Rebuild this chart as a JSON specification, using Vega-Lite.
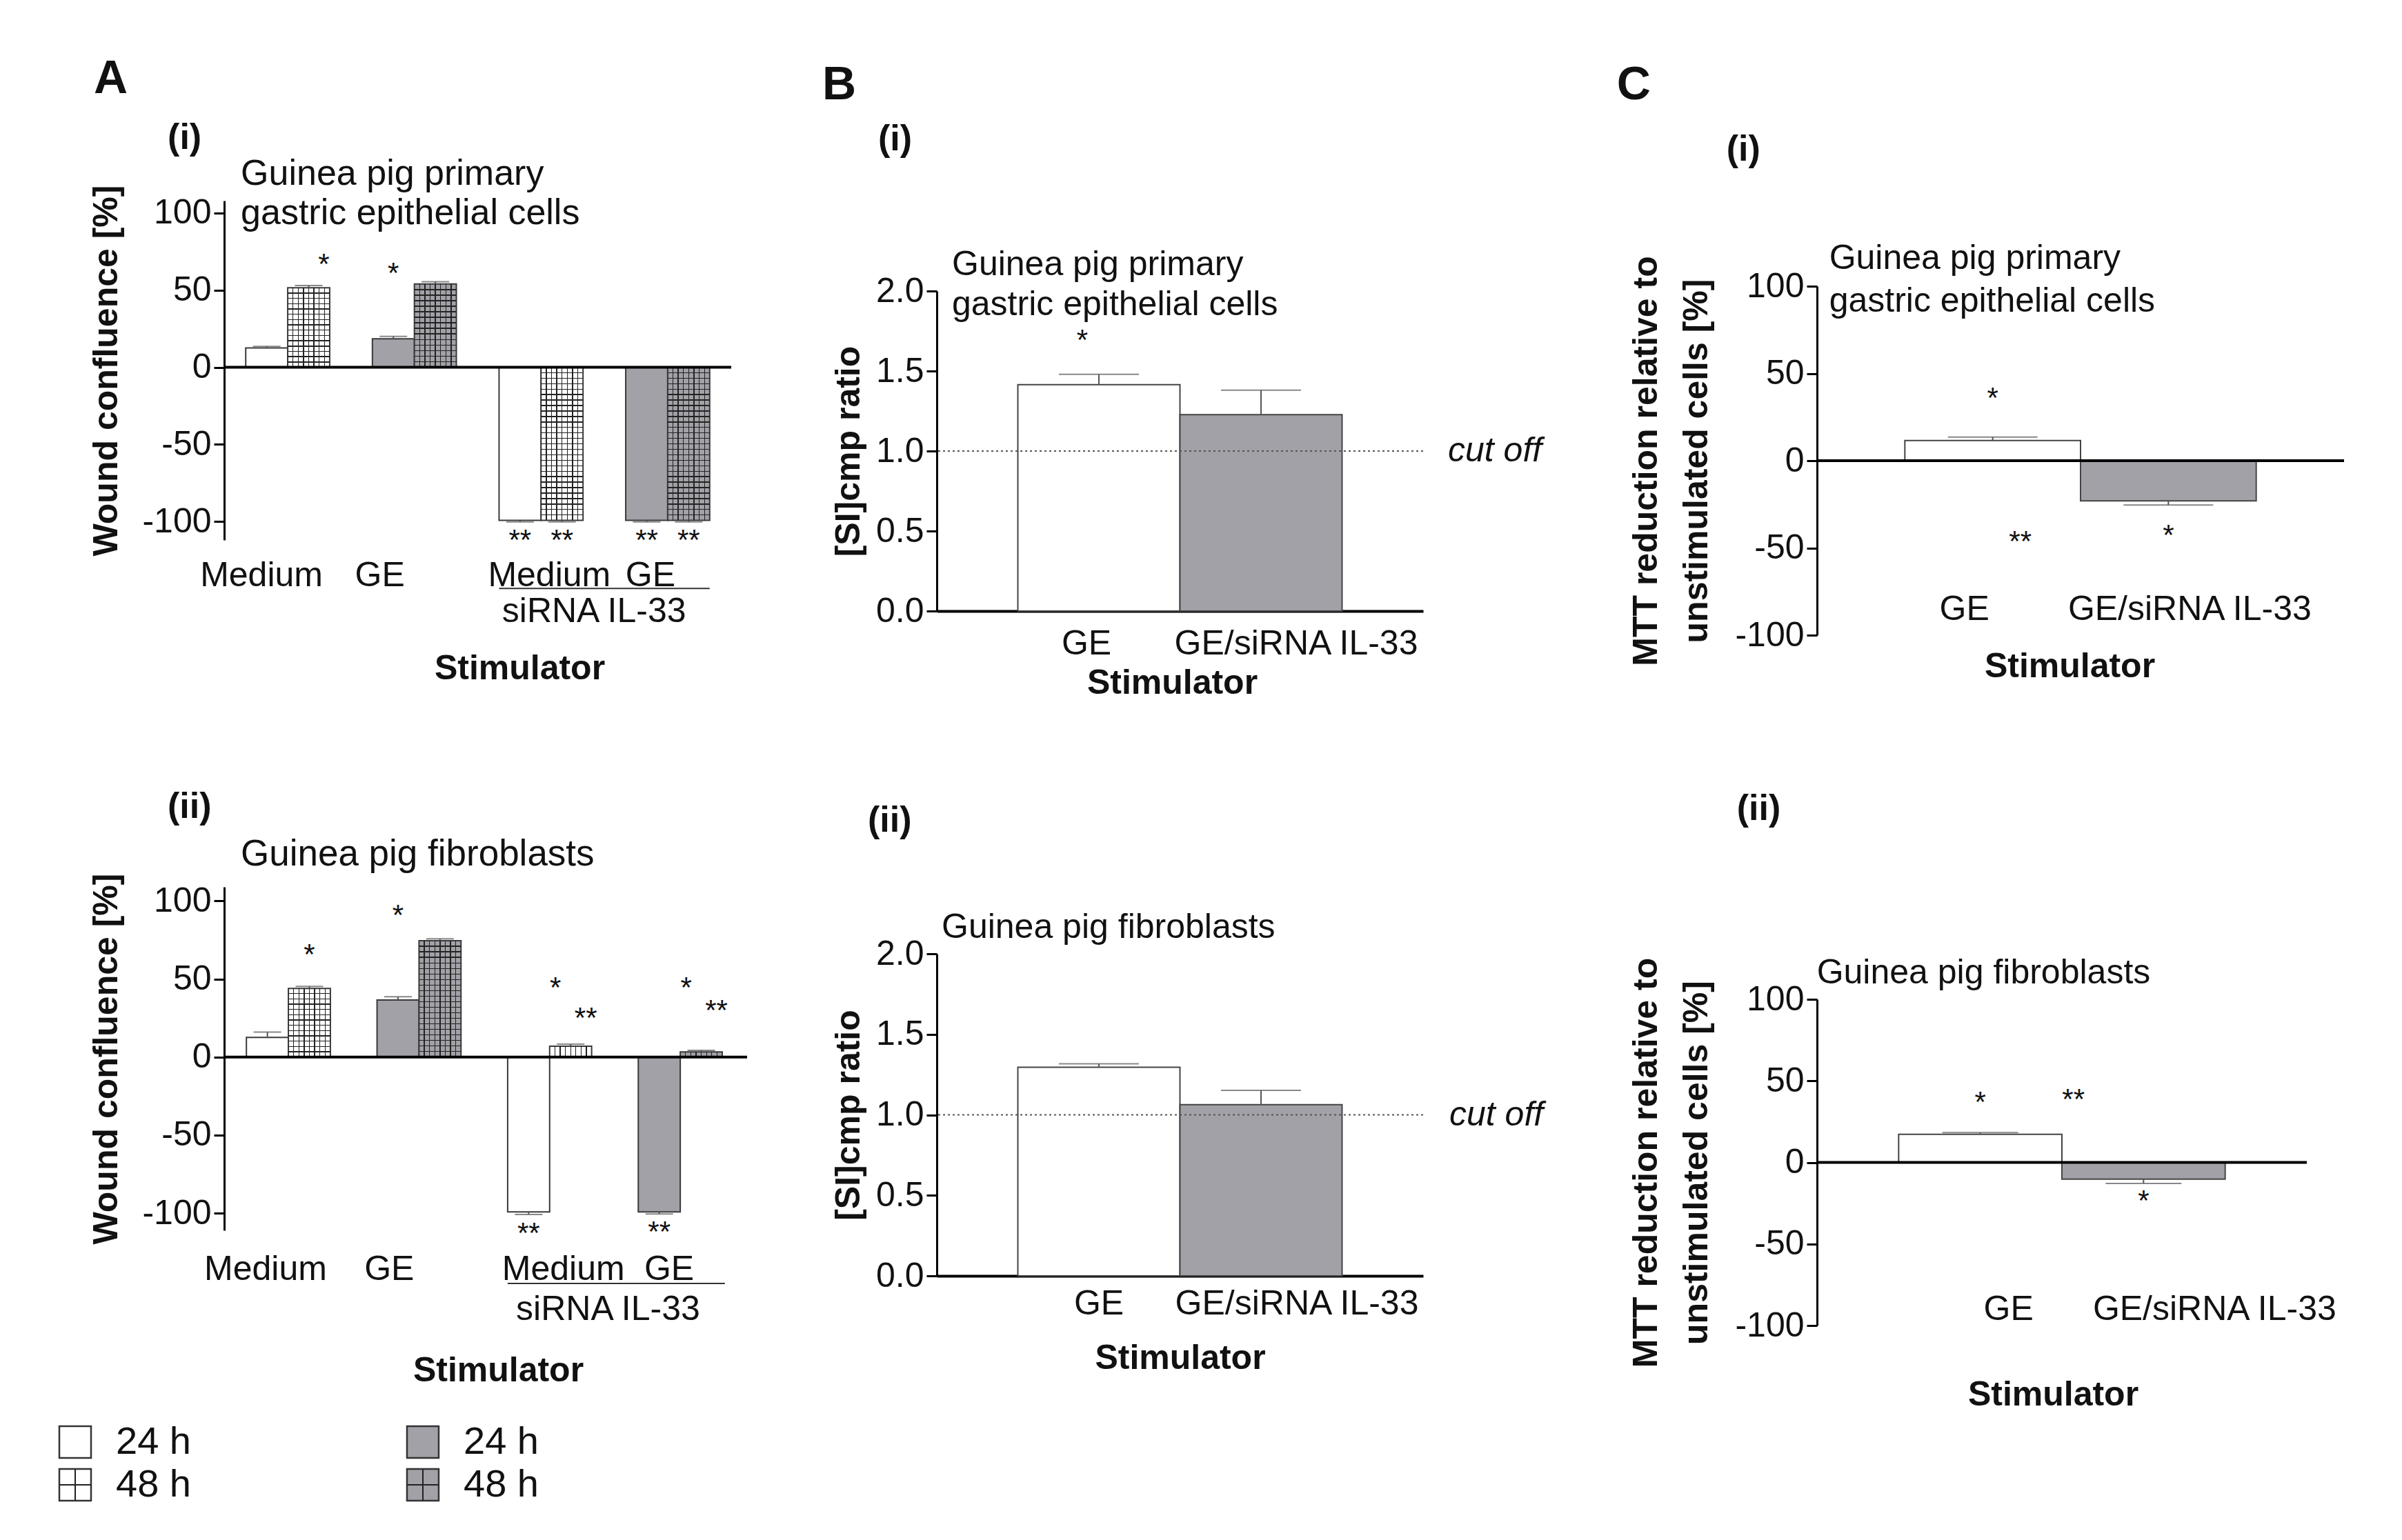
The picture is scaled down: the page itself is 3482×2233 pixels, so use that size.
{
"$schema":"https://vega.github.io/schema/vega-lite/v6.json",
"background":"white",
"padding":{"left":80,"top":58,"right":40,"bottom":20},
"config":{
 "font":"Liberation Sans",
 "view":{"stroke":null},
 "axis":{"labelFont":"Liberation Sans","titleFont":"Liberation Sans","labelFontSize":50,"titleFontSize":50,"titleFontWeight":"bold","labelColor":"#111","titleColor":"#111","grid":false,"domainColor":"#000","tickColor":"#000","domainWidth":3,"tickWidth":3,"tickSize":15,"labelPadding":4,"labelLimit":2000,"titleLimit":3000,"labelFlush":false,"labelOverlap":false},
 "text":{"font":"Liberation Sans","color":"#111"}
},
"datasets":{
 "ai":[
  {"g":"Medium","t":"24 h","v":12.5,"e":13.5},
  {"g":"Medium","t":"48 h","v":51.5,"e":53,"sr":"*","sry":72},
  {"g":"GE","t":"24 h","v":18.5,"e":20,"s":"*","sy":66},
  {"g":"GE","t":"48 h","v":54,"e":55.5},
  {"g":"Medium/siRNA","t":"24 h","v":-99.3,"e":-100.3,"s":"**","sy":-107},
  {"g":"Medium/siRNA","t":"48 h","v":-99.3,"e":-100.3,"s":"**","sy":-107},
  {"g":"GE/siRNA","t":"24 h","v":-99.3,"e":-100.3,"s":"**","sy":-107},
  {"g":"GE/siRNA","t":"48 h","v":-99.3,"e":-100.3,"s":"**","sy":-107}
 ],
 "aii":[
  {"g":"Medium","t":"24 h","v":12.6,"e":16},
  {"g":"Medium","t":"48 h","v":44,"e":45.3,"s":"*","sy":70.7},
  {"g":"GE","t":"24 h","v":36.6,"e":38.6,"s":"*","sy":95.6},
  {"g":"GE","t":"48 h","v":74.5,"e":75.8},
  {"g":"Medium/siRNA","t":"24 h","v":-99.2,"e":-100.8,"s":"**","sy":-108},
  {"g":"Medium/siRNA","t":"48 h","v":7,"e":8.3,"sl":"*","sly":49.5,"sr":"**","sry":29.8},
  {"g":"GE/siRNA","t":"24 h","v":-99.2,"e":-100.5,"s":"**","sy":-107},
  {"g":"GE/siRNA","t":"48 h","v":3.3,"e":4.3,"sl":"*","sly":49.5,"sr":"**","sry":34.8}
 ],
 "bi":[
  {"g":"GE","v":1.415,"e":1.48,"sl":"*","sly":1.74},
  {"g":"GE/siRNA IL-33","v":1.227,"e":1.38}
 ],
 "bii":[
  {"g":"GE","v":1.296,"e":1.317},
  {"g":"GE/siRNA IL-33","v":1.063,"e":1.152}
 ],
 "ci":[
  {"g":"GE","v":11.6,"e":13.5,"s":"*","sy":40.4,"sr":"**","sry":-41.9},
  {"g":"GE/siRNA IL-33","v":-23,"e":-25.4,"s":"*","sy":-38.2}
 ],
 "cii":[
  {"g":"GE","v":17.2,"e":18.3,"s":"*","sy":41.5,"sr":"**","sry":43.5},
  {"g":"GE/siRNA IL-33","v":-10.3,"e":-12.9,"s":"*","sy":-19}
 ],
 "leg":[{"col":0,"c":"w","t":"24 h"},{"col":0,"c":"w","t":"48 h"},{"col":1,"c":"g","t":"24 h"},{"col":1,"c":"g","t":"48 h"}]
},
"spacing":107,
"hconcat":[
 {
  "spacing":10,
  "vconcat":[
   {"width":1,"height":1,"data":{"values":[{}]},"mark":{"type":"text","opacity":0},"encoding":{"text":{"value":""}}},
   {
  "spacing":51,
  "vconcat":[
   {"spacing":150,"vconcat":[
    {
     "width":735,"height":492,"data":{"name":"ai"},
     "layer":[
      {"mark":{"type":"bar","stroke":"#3a3a3a","strokeWidth":2},
       "encoding":{
        "x":{"field":"g","type":"nominal","scale":{"domain":["Medium","GE","Medium/siRNA","GE/siRNA"],"paddingInner":0.337,"paddingOuter":0.17},"title":"Stimulator",
             "axis":{"orient":"bottom","domain":false,"ticks":false,"labelAngle":0,"labelPadding":26,"titlePadding":85,"titleX":428,
                     "labelExpr":"datum.value == 'Medium/siRNA' ? 'Medium' : datum.value == 'GE/siRNA' ? 'GE' : datum.value",
                     "labelOffset":{"condition":[{"test":"datum.value == 'Medium'","value":-38},{"test":"datum.value == 'GE'","value":-50},{"test":"datum.value == 'Medium/siRNA'","value":12}],"value":-25}}},
        "xOffset":{"field":"t","type":"nominal","scale":{"domain":["24 h","48 h"],"paddingInner":0,"paddingOuter":0}},
        "y":{"field":"v","type":"quantitative","scale":{"domain":[-112,108],"nice":false},"title":"Wound confluence [%]",
             "axis":{"values":[-100,-50,0,50,100],"titlePadding":26,"labelExpr":"datum.value < 0 ? '-' + abs(datum.value) : '' + datum.value"}},
        "fill":{"condition":{"test":"indexof(datum.g,'GE') == 0","value":"#a2a1a7"},"value":"#ffffff"}}},
      {"transform":[{"filter":"datum.t == '48 h'"}],
       "mark":{"type":"bar","fill":{"gradient":"linear","x1":0,"y1":0,"x2":1,"y2":0,"stops":[
        {"offset":0.114,"color":"rgba(0,0,0,0)"},{"offset":0.114,"color":"#222"},{"offset":0.136,"color":"#222"},{"offset":0.136,"color":"rgba(0,0,0,0)"},
        {"offset":0.239,"color":"rgba(0,0,0,0)"},{"offset":0.239,"color":"#222"},{"offset":0.261,"color":"#222"},{"offset":0.261,"color":"rgba(0,0,0,0)"},
        {"offset":0.364,"color":"rgba(0,0,0,0)"},{"offset":0.364,"color":"#222"},{"offset":0.386,"color":"#222"},{"offset":0.386,"color":"rgba(0,0,0,0)"},
        {"offset":0.489,"color":"rgba(0,0,0,0)"},{"offset":0.489,"color":"#222"},{"offset":0.511,"color":"#222"},{"offset":0.511,"color":"rgba(0,0,0,0)"},
        {"offset":0.614,"color":"rgba(0,0,0,0)"},{"offset":0.614,"color":"#222"},{"offset":0.636,"color":"#222"},{"offset":0.636,"color":"rgba(0,0,0,0)"},
        {"offset":0.739,"color":"rgba(0,0,0,0)"},{"offset":0.739,"color":"#222"},{"offset":0.761,"color":"#222"},{"offset":0.761,"color":"rgba(0,0,0,0)"},
        {"offset":0.864,"color":"rgba(0,0,0,0)"},{"offset":0.864,"color":"#222"},{"offset":0.886,"color":"#222"},{"offset":0.886,"color":"rgba(0,0,0,0)"}]}},
       "encoding":{"x":{"field":"g","type":"nominal"},"xOffset":{"field":"t","type":"nominal"},"y":{"field":"v","type":"quantitative"}}},
      {"transform":[{"filter":"datum.t == '48 h'"}],
       "mark":{"type":"bar"},
       "encoding":{"x":{"field":"g","type":"nominal"},"xOffset":{"field":"t","type":"nominal"},"y":{"field":"v","type":"quantitative"},
        "fill":{"condition":{"test":"datum.v < 0","value":{"gradient":"linear","x1":0,"y1":0,"x2":0,"y2":1,"stops":[
         {"offset":0.0325,"color":"rgba(0,0,0,0)"},{"offset":0.0325,"color":"#222"},{"offset":0.0389,"color":"#222"},{"offset":0.0389,"color":"rgba(0,0,0,0)"},
         {"offset":0.0682,"color":"rgba(0,0,0,0)"},{"offset":0.0682,"color":"#222"},{"offset":0.0746,"color":"#222"},{"offset":0.0746,"color":"rgba(0,0,0,0)"},
         {"offset":0.1039,"color":"rgba(0,0,0,0)"},{"offset":0.1039,"color":"#222"},{"offset":0.1103,"color":"#222"},{"offset":0.1103,"color":"rgba(0,0,0,0)"},
         {"offset":0.1397,"color":"rgba(0,0,0,0)"},{"offset":0.1397,"color":"#222"},{"offset":0.1461,"color":"#222"},{"offset":0.1461,"color":"rgba(0,0,0,0)"},
         {"offset":0.1754,"color":"rgba(0,0,0,0)"},{"offset":0.1754,"color":"#222"},{"offset":0.1818,"color":"#222"},{"offset":0.1818,"color":"rgba(0,0,0,0)"},
         {"offset":0.2111,"color":"rgba(0,0,0,0)"},{"offset":0.2111,"color":"#222"},{"offset":0.2175,"color":"#222"},{"offset":0.2175,"color":"rgba(0,0,0,0)"},
         {"offset":0.2468,"color":"rgba(0,0,0,0)"},{"offset":0.2468,"color":"#222"},{"offset":0.2532,"color":"#222"},{"offset":0.2532,"color":"rgba(0,0,0,0)"},
         {"offset":0.2825,"color":"rgba(0,0,0,0)"},{"offset":0.2825,"color":"#222"},{"offset":0.2889,"color":"#222"},{"offset":0.2889,"color":"rgba(0,0,0,0)"},
         {"offset":0.3182,"color":"rgba(0,0,0,0)"},{"offset":0.3182,"color":"#222"},{"offset":0.3246,"color":"#222"},{"offset":0.3246,"color":"rgba(0,0,0,0)"},
         {"offset":0.3539,"color":"rgba(0,0,0,0)"},{"offset":0.3539,"color":"#222"},{"offset":0.3603,"color":"#222"},{"offset":0.3603,"color":"rgba(0,0,0,0)"},
         {"offset":0.3897,"color":"rgba(0,0,0,0)"},{"offset":0.3897,"color":"#222"},{"offset":0.3961,"color":"#222"},{"offset":0.3961,"color":"rgba(0,0,0,0)"},
         {"offset":0.4254,"color":"rgba(0,0,0,0)"},{"offset":0.4254,"color":"#222"},{"offset":0.4318,"color":"#222"},{"offset":0.4318,"color":"rgba(0,0,0,0)"},
         {"offset":0.4611,"color":"rgba(0,0,0,0)"},{"offset":0.4611,"color":"#222"},{"offset":0.4675,"color":"#222"},{"offset":0.4675,"color":"rgba(0,0,0,0)"},
         {"offset":0.4968,"color":"rgba(0,0,0,0)"},{"offset":0.4968,"color":"#222"},{"offset":0.5032,"color":"#222"},{"offset":0.5032,"color":"rgba(0,0,0,0)"},
         {"offset":0.5325,"color":"rgba(0,0,0,0)"},{"offset":0.5325,"color":"#222"},{"offset":0.5389,"color":"#222"},{"offset":0.5389,"color":"rgba(0,0,0,0)"},
         {"offset":0.5682,"color":"rgba(0,0,0,0)"},{"offset":0.5682,"color":"#222"},{"offset":0.5746,"color":"#222"},{"offset":0.5746,"color":"rgba(0,0,0,0)"},
         {"offset":0.6039,"color":"rgba(0,0,0,0)"},{"offset":0.6039,"color":"#222"},{"offset":0.6103,"color":"#222"},{"offset":0.6103,"color":"rgba(0,0,0,0)"},
         {"offset":0.6397,"color":"rgba(0,0,0,0)"},{"offset":0.6397,"color":"#222"},{"offset":0.6461,"color":"#222"},{"offset":0.6461,"color":"rgba(0,0,0,0)"},
         {"offset":0.6754,"color":"rgba(0,0,0,0)"},{"offset":0.6754,"color":"#222"},{"offset":0.6818,"color":"#222"},{"offset":0.6818,"color":"rgba(0,0,0,0)"},
         {"offset":0.7111,"color":"rgba(0,0,0,0)"},{"offset":0.7111,"color":"#222"},{"offset":0.7175,"color":"#222"},{"offset":0.7175,"color":"rgba(0,0,0,0)"},
         {"offset":0.7468,"color":"rgba(0,0,0,0)"},{"offset":0.7468,"color":"#222"},{"offset":0.7532,"color":"#222"},{"offset":0.7532,"color":"rgba(0,0,0,0)"},
         {"offset":0.7825,"color":"rgba(0,0,0,0)"},{"offset":0.7825,"color":"#222"},{"offset":0.7889,"color":"#222"},{"offset":0.7889,"color":"rgba(0,0,0,0)"},
         {"offset":0.8182,"color":"rgba(0,0,0,0)"},{"offset":0.8182,"color":"#222"},{"offset":0.8246,"color":"#222"},{"offset":0.8246,"color":"rgba(0,0,0,0)"},
         {"offset":0.8539,"color":"rgba(0,0,0,0)"},{"offset":0.8539,"color":"#222"},{"offset":0.8603,"color":"#222"},{"offset":0.8603,"color":"rgba(0,0,0,0)"},
         {"offset":0.8897,"color":"rgba(0,0,0,0)"},{"offset":0.8897,"color":"#222"},{"offset":0.8961,"color":"#222"},{"offset":0.8961,"color":"rgba(0,0,0,0)"},
         {"offset":0.9254,"color":"rgba(0,0,0,0)"},{"offset":0.9254,"color":"#222"},{"offset":0.9318,"color":"#222"},{"offset":0.9318,"color":"rgba(0,0,0,0)"},
         {"offset":0.9611,"color":"rgba(0,0,0,0)"},{"offset":0.9611,"color":"#222"},{"offset":0.9675,"color":"#222"},{"offset":0.9675,"color":"rgba(0,0,0,0)"}]}},
         "value":{"gradient":"linear","x1":0,"y1":0,"x2":0,"y2":1,"stops":[
         {"offset":0.0607,"color":"rgba(0,0,0,0)"},{"offset":0.0607,"color":"#222"},{"offset":0.0727,"color":"#222"},{"offset":0.0727,"color":"rgba(0,0,0,0)"},
         {"offset":0.1273,"color":"rgba(0,0,0,0)"},{"offset":0.1273,"color":"#222"},{"offset":0.1393,"color":"#222"},{"offset":0.1393,"color":"rgba(0,0,0,0)"},
         {"offset":0.194,"color":"rgba(0,0,0,0)"},{"offset":0.194,"color":"#222"},{"offset":0.206,"color":"#222"},{"offset":0.206,"color":"rgba(0,0,0,0)"},
         {"offset":0.2607,"color":"rgba(0,0,0,0)"},{"offset":0.2607,"color":"#222"},{"offset":0.2727,"color":"#222"},{"offset":0.2727,"color":"rgba(0,0,0,0)"},
         {"offset":0.3273,"color":"rgba(0,0,0,0)"},{"offset":0.3273,"color":"#222"},{"offset":0.3393,"color":"#222"},{"offset":0.3393,"color":"rgba(0,0,0,0)"},
         {"offset":0.394,"color":"rgba(0,0,0,0)"},{"offset":0.394,"color":"#222"},{"offset":0.406,"color":"#222"},{"offset":0.406,"color":"rgba(0,0,0,0)"},
         {"offset":0.4607,"color":"rgba(0,0,0,0)"},{"offset":0.4607,"color":"#222"},{"offset":0.4727,"color":"#222"},{"offset":0.4727,"color":"rgba(0,0,0,0)"},
         {"offset":0.5273,"color":"rgba(0,0,0,0)"},{"offset":0.5273,"color":"#222"},{"offset":0.5393,"color":"#222"},{"offset":0.5393,"color":"rgba(0,0,0,0)"},
         {"offset":0.594,"color":"rgba(0,0,0,0)"},{"offset":0.594,"color":"#222"},{"offset":0.606,"color":"#222"},{"offset":0.606,"color":"rgba(0,0,0,0)"},
         {"offset":0.6607,"color":"rgba(0,0,0,0)"},{"offset":0.6607,"color":"#222"},{"offset":0.6727,"color":"#222"},{"offset":0.6727,"color":"rgba(0,0,0,0)"},
         {"offset":0.7273,"color":"rgba(0,0,0,0)"},{"offset":0.7273,"color":"#222"},{"offset":0.7393,"color":"#222"},{"offset":0.7393,"color":"rgba(0,0,0,0)"},
         {"offset":0.794,"color":"rgba(0,0,0,0)"},{"offset":0.794,"color":"#222"},{"offset":0.806,"color":"#222"},{"offset":0.806,"color":"rgba(0,0,0,0)"},
         {"offset":0.8607,"color":"rgba(0,0,0,0)"},{"offset":0.8607,"color":"#222"},{"offset":0.8727,"color":"#222"},{"offset":0.8727,"color":"rgba(0,0,0,0)"},
         {"offset":0.9273,"color":"rgba(0,0,0,0)"},{"offset":0.9273,"color":"#222"},{"offset":0.9393,"color":"#222"},{"offset":0.9393,"color":"rgba(0,0,0,0)"}]}}}},
      {"mark":{"type":"rule","color":"#555","strokeWidth":2},"encoding":{"x":{"field":"g","type":"nominal"},"xOffset":{"field":"t","type":"nominal"},"y":{"field":"v","type":"quantitative"},"y2":{"field":"e"}}},
      {"mark":{"type":"tick","color":"#555","thickness":2,"size":40},"encoding":{"x":{"field":"g","type":"nominal"},"xOffset":{"field":"t","type":"nominal"},"y":{"field":"e","type":"quantitative"}}},
      {"data":{"values":[{}]},"mark":{"type":"rule","color":"#000","strokeWidth":4},"encoding":{"y":{"datum":0}}},
      {"mark":{"type":"text","fontSize":42,"baseline":"alphabetic","dy":25},"encoding":{"x":{"field":"g","type":"nominal"},"xOffset":{"field":"t","type":"nominal"},"y":{"field":"sy","type":"quantitative"},"text":{"field":"s"}}},
      {"mark":{"type":"text","fontSize":42,"baseline":"alphabetic","dy":25,"dx":22},"encoding":{"x":{"field":"g","type":"nominal"},"xOffset":{"field":"t","type":"nominal"},"y":{"field":"sry","type":"quantitative"},"text":{"field":"sr"}}},
      {"data":{"values":[{}]},"mark":{"type":"text","align":"left","baseline":"middle","fontSize":68,"fontWeight":"bold","dx":-281},"encoding":{"x":{"datum":"Medium"},"y":{"datum":186.7},"text":{"value":"A"}}},
      {"data":{"values":[{}]},"mark":{"type":"text","align":"left","baseline":"middle","fontSize":52,"fontWeight":"bold","dx":-174},"encoding":{"x":{"datum":"Medium"},"y":{"datum":148.7},"text":{"value":"(i)"}}},
      {"data":{"values":[{}]},"mark":{"type":"text","align":"left","baseline":"middle","fontSize":52,"lineHeight":57,"dx":-68},"encoding":{"x":{"datum":"Medium"},"y":{"datum":125.4},"text":{"value":["Guinea pig primary","gastric epithelial cells"]}}},
      {"data":{"values":[{}]},"mark":{"type":"rule","color":"#333","strokeWidth":2},"encoding":{"x":{"datum":"Medium/siRNA","bandPosition":0},"x2":{"datum":"GE/siRNA","bandPosition":1},"y":{"datum":-143.4}}},
      {"data":{"values":[{}]},"mark":{"type":"text","fontSize":50,"baseline":"middle","dx":16},"encoding":{"x":{"datum":"Medium/siRNA","bandPosition":1},"y":{"datum":-158.6},"text":{"value":"siRNA IL-33"}}}
     ]
    },
    {
     "width":758,"height":498,"data":{"name":"aii"},
     "layer":[
      {"mark":{"type":"bar","stroke":"#3a3a3a","strokeWidth":2},
       "encoding":{
        "x":{"field":"g","type":"nominal","scale":{"domain":["Medium","GE","Medium/siRNA","GE/siRNA"],"paddingInner":0.337,"paddingOuter":0.17},"title":"Stimulator",
             "axis":{"orient":"bottom","domain":false,"ticks":false,"labelAngle":0,"labelPadding":31,"titlePadding":97,"titleX":397,
                     "labelExpr":"datum.value == 'Medium/siRNA' ? 'Medium' : datum.value == 'GE/siRNA' ? 'GE' : datum.value",
                     "labelOffset":{"condition":[{"test":"datum.value == 'Medium'","value":-35},{"test":"datum.value == 'GE'","value":-45},{"test":"datum.value == 'Medium/siRNA'","value":18}],"value":-18}}},
        "xOffset":{"field":"t","type":"nominal","scale":{"domain":["24 h","48 h"],"paddingInner":0,"paddingOuter":0}},
        "y":{"field":"v","type":"quantitative","scale":{"domain":[-111,109],"nice":false},"title":"Wound confluence [%]",
             "axis":{"values":[-100,-50,0,50,100],"titlePadding":26,"labelExpr":"datum.value < 0 ? '-' + abs(datum.value) : '' + datum.value"}},
        "fill":{"condition":{"test":"indexof(datum.g,'GE') == 0","value":"#a2a1a7"},"value":"#ffffff"}}},
      {"transform":[{"filter":"datum.t == '48 h'"}],
       "mark":{"type":"bar","fill":{"gradient":"linear","x1":0,"y1":0,"x2":1,"y2":0,"stops":[
        {"offset":0.114,"color":"rgba(0,0,0,0)"},{"offset":0.114,"color":"#222"},{"offset":0.136,"color":"#222"},{"offset":0.136,"color":"rgba(0,0,0,0)"},
        {"offset":0.239,"color":"rgba(0,0,0,0)"},{"offset":0.239,"color":"#222"},{"offset":0.261,"color":"#222"},{"offset":0.261,"color":"rgba(0,0,0,0)"},
        {"offset":0.364,"color":"rgba(0,0,0,0)"},{"offset":0.364,"color":"#222"},{"offset":0.386,"color":"#222"},{"offset":0.386,"color":"rgba(0,0,0,0)"},
        {"offset":0.489,"color":"rgba(0,0,0,0)"},{"offset":0.489,"color":"#222"},{"offset":0.511,"color":"#222"},{"offset":0.511,"color":"rgba(0,0,0,0)"},
        {"offset":0.614,"color":"rgba(0,0,0,0)"},{"offset":0.614,"color":"#222"},{"offset":0.636,"color":"#222"},{"offset":0.636,"color":"rgba(0,0,0,0)"},
        {"offset":0.739,"color":"rgba(0,0,0,0)"},{"offset":0.739,"color":"#222"},{"offset":0.761,"color":"#222"},{"offset":0.761,"color":"rgba(0,0,0,0)"},
        {"offset":0.864,"color":"rgba(0,0,0,0)"},{"offset":0.864,"color":"#222"},{"offset":0.886,"color":"#222"},{"offset":0.886,"color":"rgba(0,0,0,0)"}]}},
       "encoding":{"x":{"field":"g","type":"nominal"},"xOffset":{"field":"t","type":"nominal"},"y":{"field":"v","type":"quantitative"}}},
      {"transform":[{"filter":"datum.t == '48 h'"}],
       "mark":{"type":"bar"},
       "encoding":{"x":{"field":"g","type":"nominal"},"xOffset":{"field":"t","type":"nominal"},"y":{"field":"v","type":"quantitative"},
        "fill":{"condition":[{"test":"datum.v > 60","value":{"gradient":"linear","x1":0,"y1":0,"x2":0,"y2":1,"stops":[
         {"offset":0.0434,"color":"rgba(0,0,0,0)"},{"offset":0.0434,"color":"#222"},{"offset":0.0518,"color":"#222"},{"offset":0.0518,"color":"rgba(0,0,0,0)"},
         {"offset":0.091,"color":"rgba(0,0,0,0)"},{"offset":0.091,"color":"#222"},{"offset":0.0994,"color":"#222"},{"offset":0.0994,"color":"rgba(0,0,0,0)"},
         {"offset":0.1387,"color":"rgba(0,0,0,0)"},{"offset":0.1387,"color":"#222"},{"offset":0.1471,"color":"#222"},{"offset":0.1471,"color":"rgba(0,0,0,0)"},
         {"offset":0.1863,"color":"rgba(0,0,0,0)"},{"offset":0.1863,"color":"#222"},{"offset":0.1947,"color":"#222"},{"offset":0.1947,"color":"rgba(0,0,0,0)"},
         {"offset":0.2339,"color":"rgba(0,0,0,0)"},{"offset":0.2339,"color":"#222"},{"offset":0.2423,"color":"#222"},{"offset":0.2423,"color":"rgba(0,0,0,0)"},
         {"offset":0.2815,"color":"rgba(0,0,0,0)"},{"offset":0.2815,"color":"#222"},{"offset":0.2899,"color":"#222"},{"offset":0.2899,"color":"rgba(0,0,0,0)"},
         {"offset":0.3291,"color":"rgba(0,0,0,0)"},{"offset":0.3291,"color":"#222"},{"offset":0.3375,"color":"#222"},{"offset":0.3375,"color":"rgba(0,0,0,0)"},
         {"offset":0.3768,"color":"rgba(0,0,0,0)"},{"offset":0.3768,"color":"#222"},{"offset":0.3852,"color":"#222"},{"offset":0.3852,"color":"rgba(0,0,0,0)"},
         {"offset":0.4244,"color":"rgba(0,0,0,0)"},{"offset":0.4244,"color":"#222"},{"offset":0.4328,"color":"#222"},{"offset":0.4328,"color":"rgba(0,0,0,0)"},
         {"offset":0.472,"color":"rgba(0,0,0,0)"},{"offset":0.472,"color":"#222"},{"offset":0.4804,"color":"#222"},{"offset":0.4804,"color":"rgba(0,0,0,0)"},
         {"offset":0.5196,"color":"rgba(0,0,0,0)"},{"offset":0.5196,"color":"#222"},{"offset":0.528,"color":"#222"},{"offset":0.528,"color":"rgba(0,0,0,0)"},
         {"offset":0.5672,"color":"rgba(0,0,0,0)"},{"offset":0.5672,"color":"#222"},{"offset":0.5756,"color":"#222"},{"offset":0.5756,"color":"rgba(0,0,0,0)"},
         {"offset":0.6148,"color":"rgba(0,0,0,0)"},{"offset":0.6148,"color":"#222"},{"offset":0.6232,"color":"#222"},{"offset":0.6232,"color":"rgba(0,0,0,0)"},
         {"offset":0.6625,"color":"rgba(0,0,0,0)"},{"offset":0.6625,"color":"#222"},{"offset":0.6709,"color":"#222"},{"offset":0.6709,"color":"rgba(0,0,0,0)"},
         {"offset":0.7101,"color":"rgba(0,0,0,0)"},{"offset":0.7101,"color":"#222"},{"offset":0.7185,"color":"#222"},{"offset":0.7185,"color":"rgba(0,0,0,0)"},
         {"offset":0.7577,"color":"rgba(0,0,0,0)"},{"offset":0.7577,"color":"#222"},{"offset":0.7661,"color":"#222"},{"offset":0.7661,"color":"rgba(0,0,0,0)"},
         {"offset":0.8053,"color":"rgba(0,0,0,0)"},{"offset":0.8053,"color":"#222"},{"offset":0.8137,"color":"#222"},{"offset":0.8137,"color":"rgba(0,0,0,0)"},
         {"offset":0.8529,"color":"rgba(0,0,0,0)"},{"offset":0.8529,"color":"#222"},{"offset":0.8613,"color":"#222"},{"offset":0.8613,"color":"rgba(0,0,0,0)"},
         {"offset":0.9006,"color":"rgba(0,0,0,0)"},{"offset":0.9006,"color":"#222"},{"offset":0.909,"color":"#222"},{"offset":0.909,"color":"rgba(0,0,0,0)"},
         {"offset":0.9482,"color":"rgba(0,0,0,0)"},{"offset":0.9482,"color":"#222"},{"offset":0.9566,"color":"#222"},{"offset":0.9566,"color":"rgba(0,0,0,0)"}]}},
         {"test":"datum.v > 20","value":{"gradient":"linear","x1":0,"y1":0,"x2":0,"y2":1,"stops":[
         {"offset":0.0699,"color":"rgba(0,0,0,0)"},{"offset":0.0699,"color":"#222"},{"offset":0.0839,"color":"#222"},{"offset":0.0839,"color":"rgba(0,0,0,0)"},
         {"offset":0.1468,"color":"rgba(0,0,0,0)"},{"offset":0.1468,"color":"#222"},{"offset":0.1608,"color":"#222"},{"offset":0.1608,"color":"rgba(0,0,0,0)"},
         {"offset":0.2238,"color":"rgba(0,0,0,0)"},{"offset":0.2238,"color":"#222"},{"offset":0.2378,"color":"#222"},{"offset":0.2378,"color":"rgba(0,0,0,0)"},
         {"offset":0.3007,"color":"rgba(0,0,0,0)"},{"offset":0.3007,"color":"#222"},{"offset":0.3147,"color":"#222"},{"offset":0.3147,"color":"rgba(0,0,0,0)"},
         {"offset":0.3776,"color":"rgba(0,0,0,0)"},{"offset":0.3776,"color":"#222"},{"offset":0.3916,"color":"#222"},{"offset":0.3916,"color":"rgba(0,0,0,0)"},
         {"offset":0.4545,"color":"rgba(0,0,0,0)"},{"offset":0.4545,"color":"#222"},{"offset":0.4685,"color":"#222"},{"offset":0.4685,"color":"rgba(0,0,0,0)"},
         {"offset":0.5315,"color":"rgba(0,0,0,0)"},{"offset":0.5315,"color":"#222"},{"offset":0.5455,"color":"#222"},{"offset":0.5455,"color":"rgba(0,0,0,0)"},
         {"offset":0.6084,"color":"rgba(0,0,0,0)"},{"offset":0.6084,"color":"#222"},{"offset":0.6224,"color":"#222"},{"offset":0.6224,"color":"rgba(0,0,0,0)"},
         {"offset":0.6853,"color":"rgba(0,0,0,0)"},{"offset":0.6853,"color":"#222"},{"offset":0.6993,"color":"#222"},{"offset":0.6993,"color":"rgba(0,0,0,0)"},
         {"offset":0.7622,"color":"rgba(0,0,0,0)"},{"offset":0.7622,"color":"#222"},{"offset":0.7762,"color":"#222"},{"offset":0.7762,"color":"rgba(0,0,0,0)"},
         {"offset":0.8392,"color":"rgba(0,0,0,0)"},{"offset":0.8392,"color":"#222"},{"offset":0.8532,"color":"#222"},{"offset":0.8532,"color":"rgba(0,0,0,0)"},
         {"offset":0.9161,"color":"rgba(0,0,0,0)"},{"offset":0.9161,"color":"#222"},{"offset":0.9301,"color":"#222"},{"offset":0.9301,"color":"rgba(0,0,0,0)"}]}}],
         "value":"rgba(0,0,0,0)"}}},
      {"mark":{"type":"rule","color":"#555","strokeWidth":2},"encoding":{"x":{"field":"g","type":"nominal"},"xOffset":{"field":"t","type":"nominal"},"y":{"field":"v","type":"quantitative"},"y2":{"field":"e"}}},
      {"mark":{"type":"tick","color":"#555","thickness":2,"size":40},"encoding":{"x":{"field":"g","type":"nominal"},"xOffset":{"field":"t","type":"nominal"},"y":{"field":"e","type":"quantitative"}}},
      {"data":{"values":[{}]},"mark":{"type":"rule","color":"#000","strokeWidth":4},"encoding":{"y":{"datum":0}}},
      {"mark":{"type":"text","fontSize":42,"baseline":"alphabetic","dy":25},"encoding":{"x":{"field":"g","type":"nominal"},"xOffset":{"field":"t","type":"nominal"},"y":{"field":"sy","type":"quantitative"},"text":{"field":"s"}}},
      {"mark":{"type":"text","fontSize":42,"baseline":"alphabetic","dy":25,"dx":22},"encoding":{"x":{"field":"g","type":"nominal"},"xOffset":{"field":"t","type":"nominal"},"y":{"field":"sry","type":"quantitative"},"text":{"field":"sr"}}},
      {"mark":{"type":"text","fontSize":42,"baseline":"alphabetic","dy":25,"dx":-22},"encoding":{"x":{"field":"g","type":"nominal"},"xOffset":{"field":"t","type":"nominal"},"y":{"field":"sly","type":"quantitative"},"text":{"field":"sl"}}},
      {"data":{"values":[{}]},"mark":{"type":"text","align":"left","baseline":"middle","fontSize":52,"fontWeight":"bold","dx":-177},"encoding":{"x":{"datum":"Medium"},"y":{"datum":160.1},"text":{"value":"(ii)"}}},
      {"data":{"values":[{}]},"mark":{"type":"text","align":"left","baseline":"middle","fontSize":53,"dx":-71},"encoding":{"x":{"datum":"Medium"},"y":{"datum":129.7},"text":{"value":"Guinea pig fibroblasts"}}},
      {"data":{"values":[{}]},"mark":{"type":"rule","color":"#333","strokeWidth":2},"encoding":{"x":{"datum":"Medium/siRNA","bandPosition":0},"x2":{"datum":"GE/siRNA","bandPosition":1},"y":{"datum":-145}}},
      {"data":{"values":[{}]},"mark":{"type":"text","fontSize":50,"baseline":"middle","dx":20},"encoding":{"x":{"datum":"Medium/siRNA","bandPosition":1},"y":{"datum":-161.8},"text":{"value":"siRNA IL-33"}}}
     ]
    }
   ]},
   {
    "width":504,"height":62,"data":{"name":"leg"},
    "encoding":{
     "x":{"field":"col","type":"quantitative","scale":{"domain":[0.4286,1.4286],"nice":false,"zero":false},"axis":null},
     "y":{"field":"t","type":"nominal","scale":{"type":"point","padding":0,"domain":["24 h","48 h"]},"axis":null}},
    "layer":[
     {"mark":{"type":"square","size":2116,"filled":true,"opacity":1,"stroke":"#333","strokeWidth":2.5},"encoding":{"fill":{"condition":{"test":"datum.c == 'g'","value":"#a2a1a7"},"value":"#ffffff"}}},
     {"transform":[{"filter":"datum.t == '48 h'"}],"mark":{"type":"square","size":2116,"filled":true,"opacity":1,"fill":{"gradient":"linear","x1":0,"y1":0,"x2":1,"y2":0,"stops":[{"offset":0.478,"color":"rgba(0,0,0,0)"},{"offset":0.478,"color":"#222"},{"offset":0.522,"color":"#222"},{"offset":0.522,"color":"rgba(0,0,0,0)"}]}}},
     {"transform":[{"filter":"datum.t == '48 h'"}],"mark":{"type":"square","size":2116,"filled":true,"opacity":1,"fill":{"gradient":"linear","x1":0,"y1":0,"x2":0,"y2":1,"stops":[{"offset":0.478,"color":"rgba(0,0,0,0)"},{"offset":0.478,"color":"#222"},{"offset":0.522,"color":"#222"},{"offset":0.522,"color":"rgba(0,0,0,0)"}]}}},
     {"mark":{"type":"text","align":"left","baseline":"middle","fontSize":56,"dx":59},"encoding":{"text":{"field":"t"}}}
    ]
   }
  ]
   }
  ]
 },
 {
  "spacing":105,
  "hconcat":[
   {
    "spacing":20,
    "vconcat":[
     {"width":1,"height":1,"data":{"values":[{}]},"mark":{"type":"text","opacity":0},"encoding":{"text":{"value":""}}},
     {
    "spacing":148,
    "vconcat":[
     {
      "width":705,"height":464,"data":{"name":"bi"},
      "layer":[
       {"mark":{"type":"bar","stroke":"#444","strokeWidth":2},"encoding":{
         "x":{"field":"g","type":"nominal","scale":{"domain":["GE","GE/siRNA IL-33"],"paddingInner":0,"paddingOuter":0.5},"title":"Stimulator",
              "axis":{"labelAngle":0,"ticks":false,"domainWidth":4,"labelPadding":22,"titlePadding":7,"titleX":341,"labelOffset":{"condition":{"test":"datum.value == 'GE'","value":-18},"value":51}}},
         "y":{"field":"v","type":"quantitative","scale":{"domain":[0,2],"nice":false},"title":"[SI]cmp ratio","axis":{"values":[0,0.5,1,1.5,2],"format":".1f","titlePadding":14}},
         "fill":{"condition":{"test":"datum.g == 'GE'","value":"#ffffff"},"value":"#a2a1a7"}}},
       {"data":{"values":[{}]},"mark":{"type":"rule","strokeDash":[3,4],"color":"#555","strokeWidth":2},"encoding":{"y":{"datum":1}}},
       {"mark":{"type":"rule","color":"#555","strokeWidth":2},"encoding":{"x":{"field":"g","type":"nominal"},"y":{"field":"v","type":"quantitative"},"y2":{"field":"e"}}},
       {"mark":{"type":"tick","color":"#555","thickness":2,"size":116},"encoding":{"x":{"field":"g","type":"nominal"},"y":{"field":"e","type":"quantitative"}}},
       {"mark":{"type":"text","fontSize":42,"baseline":"alphabetic","dy":25,"dx":-24},"encoding":{"x":{"field":"g","type":"nominal"},"y":{"field":"sly","type":"quantitative"},"text":{"field":"sl"}}},
       {"data":{"values":[{}]},"mark":{"type":"text","align":"left","baseline":"middle","fontSize":68,"fontWeight":"bold","dx":-401},"encoding":{"x":{"datum":"GE"},"y":{"datum":3.284},"text":{"value":"B"}}},
       {"data":{"values":[{}]},"mark":{"type":"text","align":"left","baseline":"middle","fontSize":52,"fontWeight":"bold","dx":-320},"encoding":{"x":{"datum":"GE"},"y":{"datum":2.948},"text":{"value":"(i)"}}},
       {"data":{"values":[{}]},"mark":{"type":"text","align":"left","baseline":"middle","fontSize":50,"lineHeight":58,"dx":-213},"encoding":{"x":{"datum":"GE"},"y":{"datum":2.164},"text":{"value":["Guinea pig primary","gastric epithelial cells"]}}},
       {"data":{"values":[{}]},"mark":{"type":"text","align":"left","baseline":"middle","fontSize":50,"fontStyle":"italic","dx":36},"encoding":{"x":{"value":"width"},"y":{"datum":1},"text":{"value":"cut off"}}}
      ]
     },
     {
      "width":705,"height":467,"data":{"name":"bii"},
      "layer":[
       {"mark":{"type":"bar","stroke":"#444","strokeWidth":2},"encoding":{
         "x":{"field":"g","type":"nominal","scale":{"domain":["GE","GE/siRNA IL-33"],"paddingInner":0,"paddingOuter":0.5},"title":"Stimulator",
              "axis":{"labelAngle":0,"ticks":false,"domainWidth":4,"labelPadding":15,"titlePadding":29,"labelOffset":{"condition":{"test":"datum.value == 'GE'","value":0},"value":52}}},
         "y":{"field":"v","type":"quantitative","scale":{"domain":[0,2],"nice":false},"title":"[SI]cmp ratio","axis":{"values":[0,0.5,1,1.5,2],"format":".1f","titlePadding":14}},
         "fill":{"condition":{"test":"datum.g == 'GE'","value":"#ffffff"},"value":"#a2a1a7"}}},
       {"data":{"values":[{}]},"mark":{"type":"rule","strokeDash":[3,4],"color":"#555","strokeWidth":2},"encoding":{"y":{"datum":1}}},
       {"mark":{"type":"rule","color":"#555","strokeWidth":2},"encoding":{"x":{"field":"g","type":"nominal"},"y":{"field":"v","type":"quantitative"},"y2":{"field":"e"}}},
       {"mark":{"type":"tick","color":"#555","thickness":2,"size":116},"encoding":{"x":{"field":"g","type":"nominal"},"y":{"field":"e","type":"quantitative"}}},
       {"data":{"values":[{}]},"mark":{"type":"text","align":"left","baseline":"middle","fontSize":52,"fontWeight":"bold","dx":-335},"encoding":{"x":{"datum":"GE"},"y":{"datum":2.827},"text":{"value":"(ii)"}}},
       {"data":{"values":[{}]},"mark":{"type":"text","align":"left","baseline":"middle","fontSize":50,"dx":-228},"encoding":{"x":{"datum":"GE"},"y":{"datum":2.163},"text":{"value":"Guinea pig fibroblasts"}}},
       {"data":{"values":[{}]},"mark":{"type":"text","align":"left","baseline":"middle","fontSize":50,"fontStyle":"italic","dx":38},"encoding":{"x":{"value":"width"},"y":{"datum":1},"text":{"value":"cut off"}}}
      ]
     }
    ]
     }
    ]
   },
   {
    "spacing":20,
    "vconcat":[
     {"width":1,"height":1,"data":{"values":[{}]},"mark":{"type":"text","opacity":0},"encoding":{"text":{"value":""}}},
     {
    "spacing":156,
    "vconcat":[
     {
      "width":764,"height":506,"data":{"name":"ci"},
      "layer":[
       {"mark":{"type":"bar","stroke":"#444","strokeWidth":2},"encoding":{
         "x":{"field":"g","type":"nominal","scale":{"domain":["GE","GE/siRNA IL-33"],"paddingInner":0,"paddingOuter":0.5},"title":"Stimulator",
              "axis":{"labelAngle":0,"ticks":false,"domain":false,"labelPadding":-63,"titleY":20,"titleX":366,"labelOffset":{"condition":{"test":"datum.value == 'GE'","value":-41},"value":31}}},
         "y":{"field":"v","type":"quantitative","scale":{"domain":[-100,100],"nice":false},"title":["MTT reduction relative to","unstimulated cells [%]"],
              "axis":{"values":[-100,-50,0,50,100],"titlePadding":30,"titleLineHeight":73,"labelExpr":"datum.value < 0 ? '-' + abs(datum.value) : '' + datum.value"}},
         "fill":{"condition":{"test":"datum.g == 'GE'","value":"#ffffff"},"value":"#a2a1a7"}}},
       {"mark":{"type":"rule","color":"#555","strokeWidth":2},"encoding":{"x":{"field":"g","type":"nominal"},"y":{"field":"v","type":"quantitative"},"y2":{"field":"e"}}},
       {"mark":{"type":"tick","color":"#555","thickness":2,"size":130},"encoding":{"x":{"field":"g","type":"nominal"},"y":{"field":"e","type":"quantitative"}}},
       {"data":{"values":[{}]},"mark":{"type":"rule","color":"#000","strokeWidth":4},"encoding":{"y":{"datum":0}}},
       {"mark":{"type":"text","fontSize":42,"baseline":"alphabetic","dy":25},"encoding":{"x":{"field":"g","type":"nominal"},"y":{"field":"sy","type":"quantitative"},"text":{"field":"s"}}},
       {"mark":{"type":"text","fontSize":42,"baseline":"alphabetic","dy":25,"dx":40},"encoding":{"x":{"field":"g","type":"nominal"},"y":{"field":"sry","type":"quantitative"},"text":{"field":"sr"}}},
       {"data":{"values":[{}]},"mark":{"type":"text","align":"left","baseline":"middle","fontSize":68,"fontWeight":"bold","dx":-545},"encoding":{"x":{"datum":"GE"},"y":{"datum":215},"text":{"value":"C"}}},
       {"data":{"values":[{}]},"mark":{"type":"text","align":"left","baseline":"middle","fontSize":52,"fontWeight":"bold","dx":-386},"encoding":{"x":{"datum":"GE"},"y":{"datum":178.3},"text":{"value":"(i)"}}},
       {"data":{"values":[{}]},"mark":{"type":"text","align":"left","baseline":"middle","fontSize":50,"lineHeight":62,"dx":-237},"encoding":{"x":{"datum":"GE"},"y":{"datum":115.8},"text":{"value":["Guinea pig primary","gastric epithelial cells"]}}}
      ]
     },
     {
      "width":710,"height":473,"data":{"name":"cii"},
      "layer":[
       {"mark":{"type":"bar","stroke":"#444","strokeWidth":2},"encoding":{
         "x":{"field":"g","type":"nominal","scale":{"domain":["GE","GE/siRNA IL-33"],"paddingInner":0,"paddingOuter":0.5},"title":"Stimulator",
              "axis":{"labelAngle":0,"ticks":false,"domain":false,"labelPadding":-49,"titleY":75,"titleX":342,"labelOffset":{"condition":{"test":"datum.value == 'GE'","value":41},"value":103}}},
         "y":{"field":"v","type":"quantitative","scale":{"domain":[-100,100],"nice":false},"title":["MTT reduction relative to","unstimulated cells [%]"],
              "axis":{"values":[-100,-50,0,50,100],"titlePadding":30,"titleLineHeight":73,"labelExpr":"datum.value < 0 ? '-' + abs(datum.value) : '' + datum.value"}},
         "fill":{"condition":{"test":"datum.g == 'GE'","value":"#ffffff"},"value":"#a2a1a7"}}},
       {"mark":{"type":"rule","color":"#555","strokeWidth":2},"encoding":{"x":{"field":"g","type":"nominal"},"y":{"field":"v","type":"quantitative"},"y2":{"field":"e"}}},
       {"mark":{"type":"tick","color":"#555","thickness":2,"size":110},"encoding":{"x":{"field":"g","type":"nominal"},"y":{"field":"e","type":"quantitative"}}},
       {"data":{"values":[{}]},"mark":{"type":"rule","color":"#000","strokeWidth":4},"encoding":{"y":{"datum":0}}},
       {"mark":{"type":"text","fontSize":42,"baseline":"alphabetic","dy":25},"encoding":{"x":{"field":"g","type":"nominal"},"y":{"field":"sy","type":"quantitative"},"text":{"field":"s"}}},
       {"mark":{"type":"text","fontSize":42,"baseline":"alphabetic","dy":25,"dx":135},"encoding":{"x":{"field":"g","type":"nominal"},"y":{"field":"sry","type":"quantitative"},"text":{"field":"sr"}}},
       {"data":{"values":[{}]},"mark":{"type":"text","align":"left","baseline":"middle","fontSize":52,"fontWeight":"bold","dx":-353},"encoding":{"x":{"datum":"GE"},"y":{"datum":216.7},"text":{"value":"(ii)"}}},
       {"data":{"values":[{}]},"mark":{"type":"text","align":"left","baseline":"middle","fontSize":50,"dx":-237},"encoding":{"x":{"datum":"GE"},"y":{"datum":116.1},"text":{"value":"Guinea pig fibroblasts"}}}
      ]
     }
    ]
     }
    ]
   }
  ]
 }
]
}
